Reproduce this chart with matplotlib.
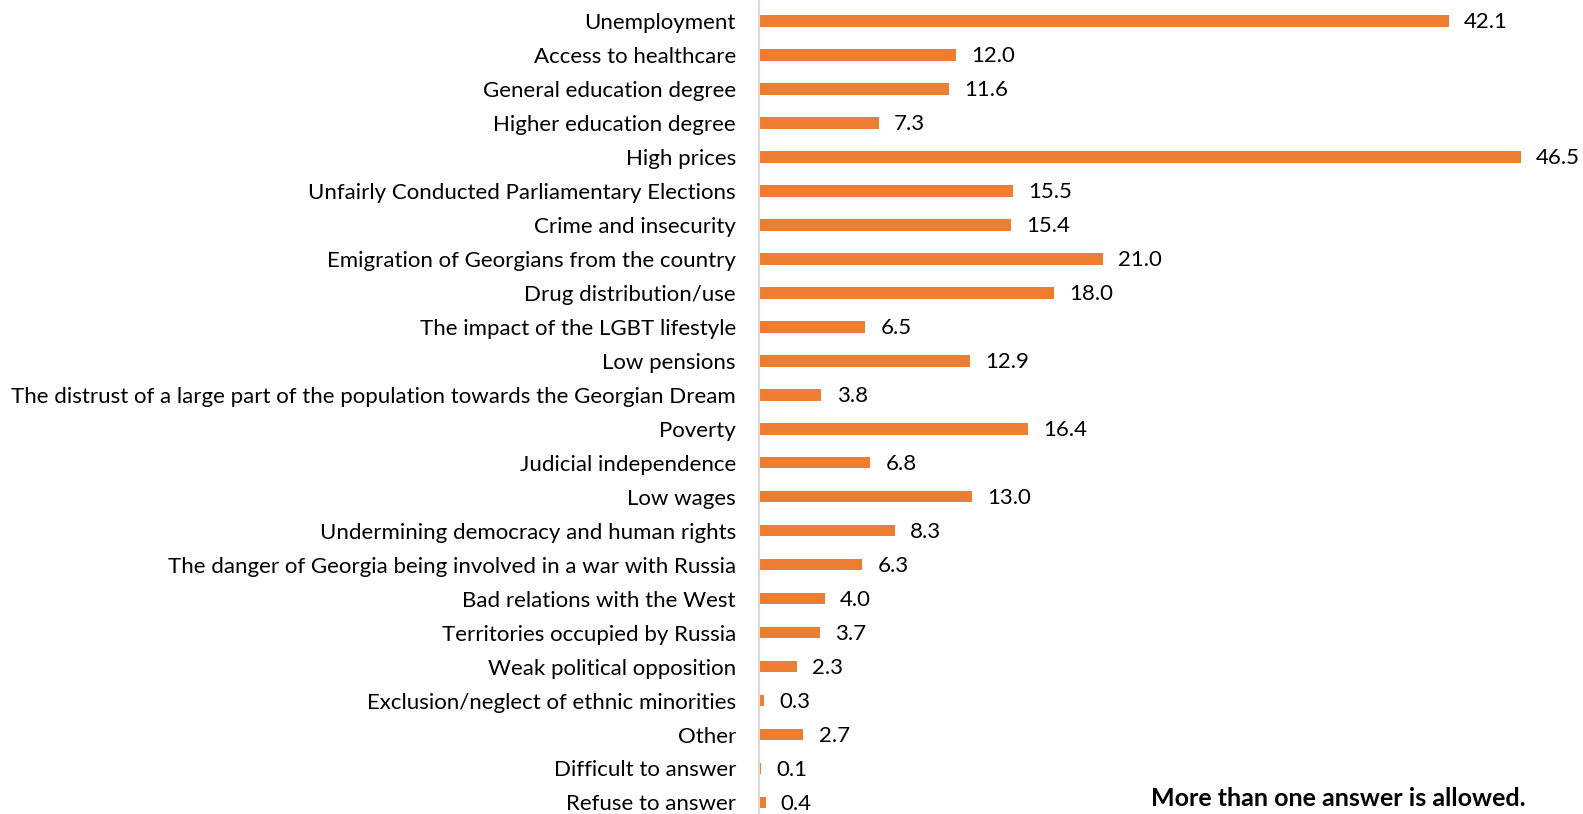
import matplotlib.pyplot as plt

# Data (top to bottom)
categories = [
    "Unemployment",
    "Access to healthcare",
    "General education degree",
    "Higher education degree",
    "High prices",
    "Unfairly Conducted Parliamentary Elections",
    "Crime and insecurity",
    "Emigration of Georgians from the country",
    "Drug distribution/use",
    "The impact of the LGBT lifestyle",
    "Low pensions",
    "The distrust of a large part of the population towards the Georgian Dream",
    "Poverty",
    "Judicial independence",
    "Low wages",
    "Undermining democracy and human rights",
    "The danger of Georgia being involved in a war with Russia",
    "Bad relations with the West",
    "Territories occupied by Russia",
    "Weak political opposition",
    "Exclusion/neglect of ethnic minorities",
    "Other",
    "Difficult to answer",
    "Refuse to answer",
]
values = [42.1, 12.0, 11.6, 7.3, 46.5, 15.5, 15.4, 21.0, 18.0, 6.5, 12.9, 3.8,
          16.4, 6.8, 13.0, 8.3, 6.3, 4.0, 3.7, 2.3, 0.3, 2.7, 0.1, 0.4]
note = "More than one answer is allowed."

plt.rcParams['font.family'] = ['Lato', 'DejaVu Sans']

W, H = 1583, 814
fig = plt.figure(figsize=(W / 100, H / 100), dpi=100)
ax = fig.add_axes([759 / W, 0, 1 - 759 / W, 1])

bar_color = '#ED7D31'
pos = list(range(len(categories)))
ax.barh(pos, values, height=0.34, color=bar_color)
ax.set_xlim(0, 50.3)
ax.set_ylim(len(categories) - 1 + 0.34, -0.62)

# value labels right of each bar
for y, v in zip(pos, values):
    ax.annotate(f"{v:.1f}", (v, y), xytext=(11, -1), textcoords='offset points',
                ha='left', va='center', fontsize=16, color='#000000')

ax.set_yticks(pos)
ax.set_yticklabels(categories, fontsize=16, color='#000000')
ax.tick_params(axis='y', length=0, pad=23 * 0.72)
ax.set_xticks([])
for s in ['top', 'right', 'bottom']:
    ax.spines[s].set_visible(False)
ax.spines['left'].set_color('#D9D9D9')
ax.spines['left'].set_linewidth(1.5)

fig.text(1526 / W, 1 - 799 / H, note, ha='right', va='center',
         fontsize=18, fontweight='bold', color='#000000')

fig.savefig('out.png', dpi=100)
